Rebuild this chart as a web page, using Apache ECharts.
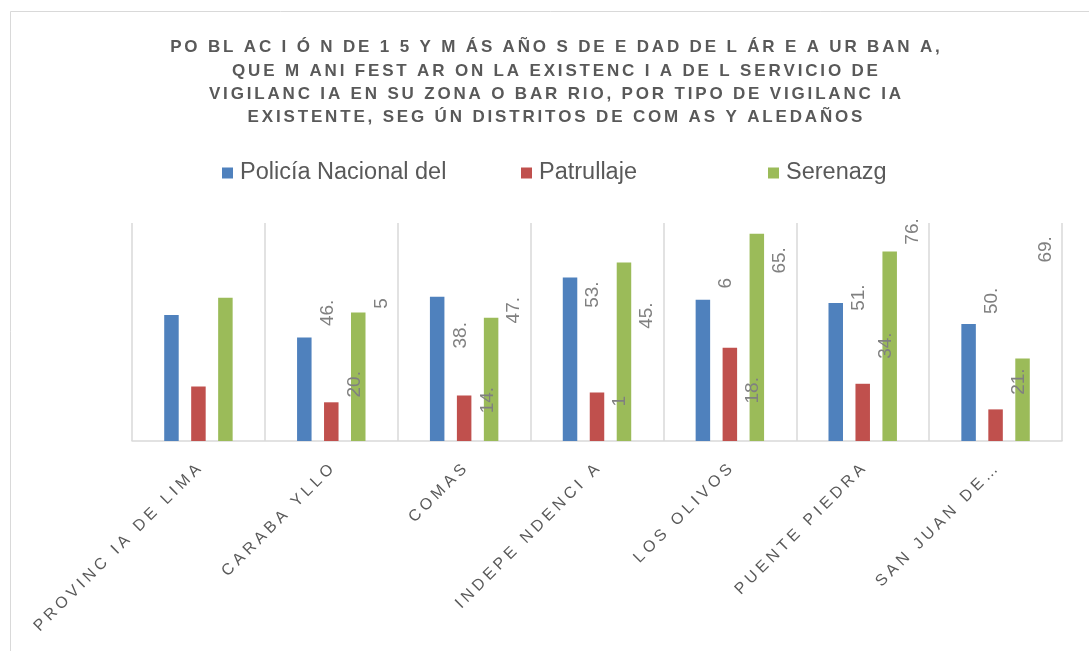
<!DOCTYPE html>
<html>
<head>
<meta charset="utf-8">
<script src="https://cdn.jsdelivr.net/npm/echarts@6/dist/echarts.min.js"></script>
<style>
html, body { margin: 0; padding: 0; background: #fff; }
#chart { width: 1089px; height: 651px; }
</style>
</head>
<body>
<div id="chart"></div>
<script>
// distritos (texto tal como aparece en el grafico)
var distritos = ['PROVINC IA DE LIMA', 'CARABA YLLO', 'COMAS', 'INDEPE NDENCI A',
                 'LOS OLIVOS', 'PUENTE PIEDRA', 'SAN JUAN DE\u2026'];
var series_nombres = ['Policía Nacional del', 'Patrullaje', 'Serenazg'];

var policia = [46.2, 38.0, 52.9, 60.0, 51.8, 50.6, 42.9];
var patrullaje = [20.0, 14.2, 16.7, 17.8, 34.2, 21.0, 11.6];
var serenazgo = [52.6, 47.2, 45.2, 65.5, 76.1, 69.5, 30.3];

// etiquetas recortadas, como se ven (desplazadas un distrito a la derecha)
var policia_etq = ['46.', '38.', '53.', '6', '51.', '50.', ''];
var patrullaje_etq = ['20.', '14.', '1', '18.', '34.', '21.', ''];
var serenazgo_etq = ['5', '47.', '45.', '65.', '76.', '69.', ''];

var titulo = [
	'PO BL AC I Ó N DE 1 5 Y M ÁS AÑO S DE E DAD DE L ÁR E A UR BAN A,',
	'QUE M ANI FEST AR ON LA EXISTENC I A DE L SERVICIO DE',
	'VIGILANC IA EN SU ZONA O BAR RIO, POR TIPO DE VIGILANC IA',
	'EXISTENTE, SEG ÚN DISTRITOS DE COM AS Y ALEDAÑOS'
];

var colores = ['#4f81bd', '#c0504d', '#9bbb59'];
var BAR_W = 14.5;

function espaciar(txt, sep) {
	return txt.split('').join(sep);
}

function serie(nombre, datos, etq, color) {
	return {
		name: nombre,
		type: 'bar',
		data: datos,
		barWidth: BAR_W,
		barGap: '86%',
		itemStyle: { color: color },
		label: {
			show: true,
			position: [BAR_W / 2 + 156, 11],
			rotate: 90,
			align: 'left',
			verticalAlign: 'middle',
			color: '#808080',
			fontSize: 19,
			fontFamily: 'Liberation Sans, Arial, sans-serif',
			formatter: function (p) { return etq[p.dataIndex]; }
		}
	};
}

function leyenda(nombre, izq) {
	return {
		data: [nombre],
		left: izq,
		top: 161,
		padding: 0,
		icon: 'rect',
		itemWidth: 11,
		itemHeight: 11,
		itemGap: 0,
		textStyle: {
			color: '#595959',
			fontSize: 23.5,
			fontFamily: 'Liberation Sans, Arial, sans-serif',
			padding: [0, 0, 0, 2]
		}
	};
}

var myChart = echarts.init(document.getElementById('chart'), null, { renderer: 'canvas' });
var option = {
	backgroundColor: '#fff',
	animation: false,
	title: {
		text: titulo.map(function (l) { return espaciar(l, '\u2006'); }).join('\n'),
		left: 555,
		top: 36,
		padding: 0,
		textAlign: 'center',
		textStyle: {
			color: '#595959',
			fontSize: 17,
			fontWeight: 'bold',
			lineHeight: 23.3,
			fontFamily: 'Liberation Sans, Arial, sans-serif'
		}
	},
	legend: [
		leyenda(series_nombres[0], 222),
		leyenda(series_nombres[1], 521),
		leyenda(series_nombres[2], 768)
	],
	graphic: [{
		type: 'rect',
		silent: true,
		shape: { x: 10.5, y: 11.5, width: 1200, height: 800 },
		style: { fill: 'none', stroke: '#d9d9d9', lineWidth: 1 }
	}],
	grid: {
		left: 132,
		right: 27,
		top: 223,
		bottom: 210
	},
	xAxis: {
		type: 'category',
		data: distritos,
		axisLine: { lineStyle: { color: '#d9d9d9', width: 1.5 } },
		axisTick: { show: false },
		splitLine: { show: true, lineStyle: { color: '#d9d9d9', width: 1.5 } },
		axisLabel: {
			interval: 0,
			rotate: 45,
			margin: 26,
			color: '#595959',
			fontSize: 16,
			fontFamily: 'Liberation Sans, Arial, sans-serif',
			formatter: function (v) { return espaciar(v, '\u2005'); }
		}
	},
	yAxis: {
		type: 'value',
		min: 0,
		max: 80,
		show: false,
		splitLine: { show: false }
	},
	series: [
		serie(series_nombres[0], policia, policia_etq, colores[0]),
		serie(series_nombres[1], patrullaje, patrullaje_etq, colores[1]),
		serie(series_nombres[2], serenazgo, serenazgo_etq, colores[2])
	]
};
myChart.setOption(option);
</script>
</body>
</html>
